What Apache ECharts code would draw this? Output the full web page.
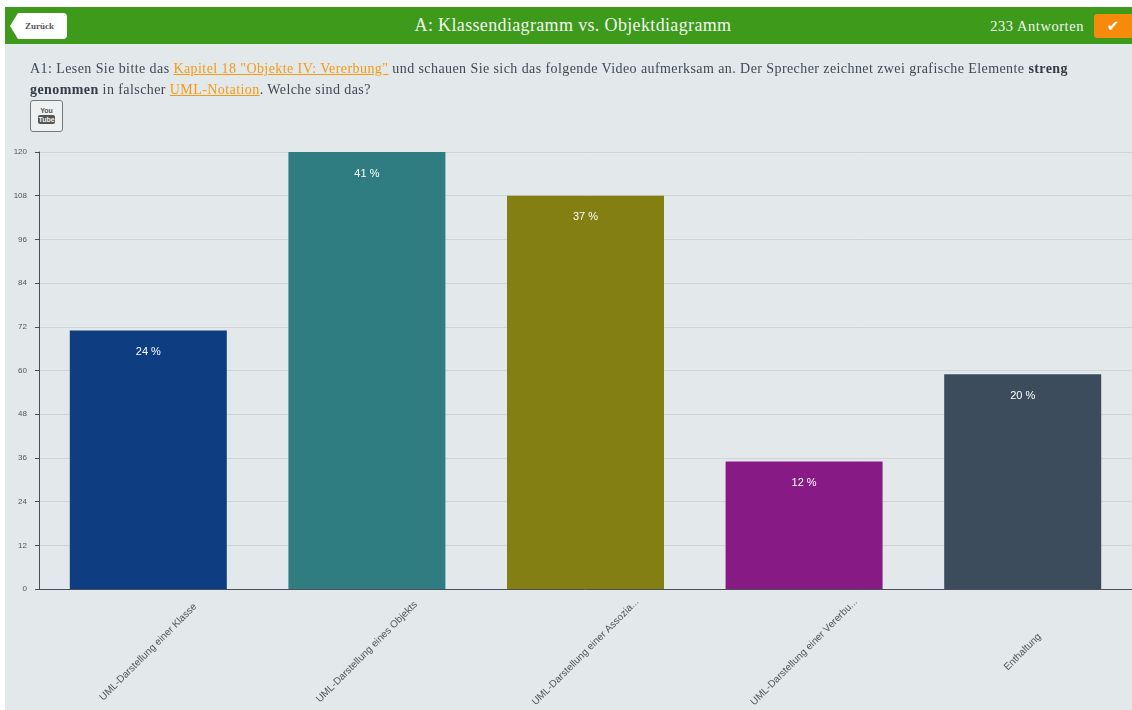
<!DOCTYPE html>
<html>
<head>
<meta charset="utf-8">
<title>A: Klassendiagramm vs. Objektdiagramm</title>
<script src="https://cdn.jsdelivr.net/npm/echarts@6/dist/echarts.min.js"></script>
<style>
html, body { margin: 0; padding: 0; background: #fff; overflow: hidden; }
#page { position: absolute; left: 5px; top: 7px; right: 0; bottom: 0; background: #e3e8ea; }
#container { position: absolute; left: 0; top: 0; width: 1132px; height: 710px; }
#head { position: absolute; left: 5px; top: 7px; right: 0; height: 37px; background: #3d9a1a; color: #f2f7ee;
	font-family: "Liberation Serif", serif; }
#head .title { position: absolute; left: 9px; right: 0; top: 8px; text-align: center; font-size: 18px; letter-spacing: .35px; }
#head .count { position: absolute; right: 48px; top: 11px; font-size: 14.5px; letter-spacing: .55px; }
#head .ok { position: absolute; right: 0; top: 7px; width: 38px; height: 24px; background: #f58a0b; border-radius: 3px 0 0 3px;
	color: #fff; text-align: center; font: bold 15px/24px "DejaVu Sans", sans-serif; }
#back { position: absolute; left: 5px; top: 6px; width: 57px; height: 26px; background: #fff; color: #555; border-radius: 0 4px 4px 0;
	clip-path: polygon(0 50%, 8px 0, 100% 0, 100% 100%, 8px 100%);
	font: bold 9px/26px "Liberation Serif", serif; text-indent: 15px; }
#question { position: absolute; left: 30px; top: 58px; width: 1080px; font: 14px/21px "Liberation Serif", serif; color: #3d4a55; letter-spacing: .42px; }
#question a { color: #f59a14; text-decoration: underline; }
#question b { color: #333d47; }
#video { position: absolute; left: 30px; top: 100px; width: 31px; height: 30px; border: 1px solid #777; border-radius: 3px;
	background: #eef1f2; color: #555; text-align: center; font: bold 7px/8px "Liberation Sans", sans-serif; }
#video span { display: block; margin: 0 auto; width: 17px; background: #555; color: #eef1f2; border-radius: 2px; line-height: 9px; }
#video i { display: block; font-style: normal; margin-top: 6px; }
</style>
</head>
<body>
<div id="page"></div>
<div id="container"></div>
<div id="head">
	<div class="title">A: Klassendiagramm vs. Objektdiagramm</div>
	<div id="back">Zurück</div>
	<div class="count">233 Antworten</div>
	<div class="ok">✔</div>
</div>
<div id="question">A1: Lesen Sie bitte das <a>Kapitel 18 "Objekte IV: Vererbung"</a> und schauen Sie sich das folgende Video aufmerksam an. Der Sprecher zeichnet zwei grafische Elemente <b>streng<br>genommen</b> in falscher <a>UML-Notation</a>. Welche sind das?</div>
<div id="video"><i>You</i><span>Tube</span></div>
<script>
var categories = ['UML-Darstellung einer Klasse', 'UML-Darstellung eines Objekts', 'UML-Darstellung einer Assozia...', 'UML-Darstellung einer Vererbu...', 'Enthaltung'];
var answers = [71, 120, 108, 35, 59];
var percents = ['24 %', '41 %', '37 %', '12 %', '20 %'];
var barColors = ['#0f3d82', '#2f7d80', '#847f13', '#871a85', '#3c4c5c'];

var myChart = echarts.init(document.getElementById('container'));
var option = {
	animation: false,
	grid: {
		left: 39,
		right: 0,
		top: 152,
		bottom: 121
	},
	xAxis: {
		type: 'category',
		data: categories,
		axisLine: {
			lineStyle: {
				color: '#4a5057'
			}
		},
		axisTick: {
			alignWithLabel: true,
			length: 3,
			lineStyle: {
				color: '#777'
			}
		},
		axisLabel: {
			interval: 0,
			rotate: 45,
			align: 'center',
			verticalAlign: 'middle',
			margin: 63,
			fontFamily: 'Liberation Sans',
			fontSize: 10,
			color: '#555'
		}
	},
	yAxis: {
		type: 'value',
		min: 0,
		max: 120,
		interval: 12,
		axisLine: {
			show: true,
			lineStyle: {
				color: '#4a5057'
			}
		},
		axisTick: {
			show: true,
			length: 4,
			lineStyle: {
				color: '#4a5057'
			}
		},
		axisLabel: {
			margin: 12,
			fontFamily: 'Liberation Sans',
			fontSize: 8,
			color: '#555'
		},
		splitLine: {
			lineStyle: {
				color: '#cfd4d7'
			}
		}
	},
	series: [{
		type: 'bar',
		barWidth: 157,
		data: answers.map(function(item, i) {
			return {
				value: item,
				itemStyle: {
					color: barColors[i]
				}
			};
		}),
		label: {
			show: true,
			position: 'insideTop',
			distance: 16,
			fontFamily: 'Liberation Sans',
			fontSize: 11,
			color: '#fff',
			formatter: function(param) {
				return percents[param.dataIndex];
			}
		}
	}]
};
myChart.setOption(option);
</script>
</body>
</html>
